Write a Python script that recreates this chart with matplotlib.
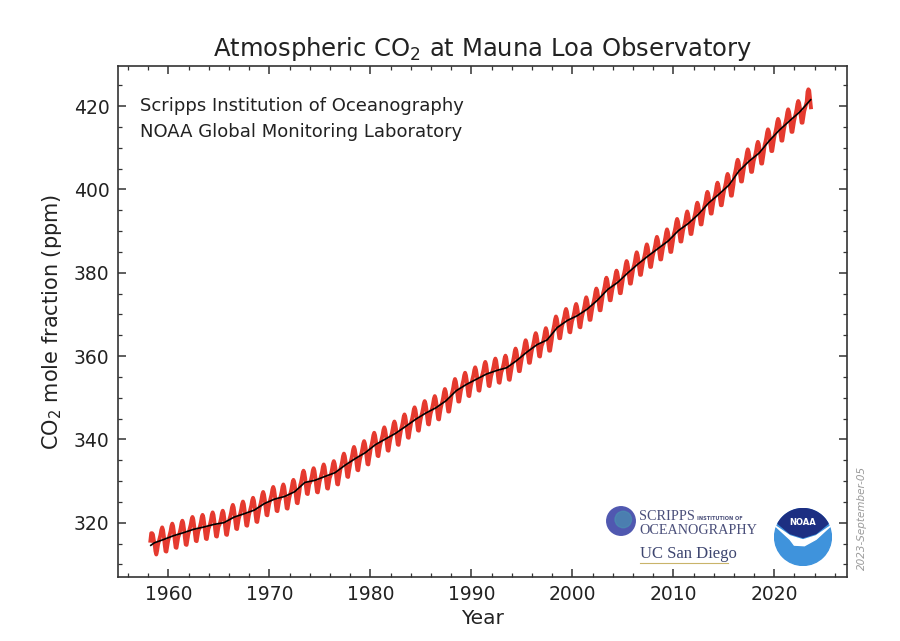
import matplotlib
matplotlib.use("Agg")
import matplotlib.pyplot as plt
import numpy as np
from matplotlib.patches import Circle, Polygon

# monthly CO2 at Mauna Loa (ppm), one row per year, 1958 starts in March, 2023 ends in August
first_year = 1958
first_month = 3
co2_monthly = [
    [315.7, 317.5, 317.5, 317.2, 315.9, 314.9, 313.2, 312.4, 313.3, 314.7],
    [315.5, 316.2, 317.1, 318.3, 318.9, 318.3, 316.8, 314.8, 313.2, 313.1, 314.4, 315.6],
    [316.4, 317.1, 318.0, 319.2, 319.8, 319.2, 317.7, 315.7, 314.1, 314.0, 315.3, 316.5],
    [317.1, 317.8, 318.7, 319.9, 320.5, 319.9, 318.4, 316.4, 314.8, 314.7, 316.0, 317.2],
    [318.0, 318.7, 319.6, 320.8, 321.4, 320.8, 319.3, 317.3, 315.7, 315.6, 316.9, 318.1],
    [318.5, 319.2, 320.1, 321.3, 321.9, 321.3, 319.8, 317.8, 316.2, 316.1, 317.4, 318.6],
    [319.1, 319.8, 320.7, 321.9, 322.5, 321.9, 320.4, 318.4, 316.8, 316.7, 318.0, 319.2],
    [319.5, 320.2, 321.1, 322.3, 322.9, 322.3, 320.8, 318.8, 317.2, 317.1, 318.4, 319.6],
    [320.9, 321.6, 322.5, 323.7, 324.3, 323.7, 322.2, 320.2, 318.6, 318.5, 319.8, 321.0],
    [321.7, 322.4, 323.3, 324.5, 325.1, 324.5, 323.0, 321.0, 319.4, 319.3, 320.6, 321.8],
    [322.6, 323.3, 324.2, 325.4, 326.0, 325.4, 323.9, 321.9, 320.3, 320.2, 321.5, 322.7],
    [323.9, 324.6, 325.6, 326.8, 327.4, 326.8, 325.5, 323.5, 321.9, 321.8, 323.2, 324.4],
    [325.2, 325.9, 326.8, 328.0, 328.6, 328.0, 326.5, 324.5, 322.9, 322.8, 324.1, 325.3],
    [325.8, 326.5, 327.4, 328.6, 329.2, 328.6, 327.1, 325.1, 323.5, 323.4, 324.7, 325.9],
    [326.8, 327.5, 328.5, 329.7, 330.3, 329.7, 328.4, 326.4, 324.8, 324.7, 326.1, 327.3],
    [329.0, 329.7, 330.7, 331.9, 332.5, 331.9, 330.6, 328.6, 327.0, 326.9, 328.3, 329.5],
    [329.7, 330.4, 331.3, 332.5, 333.1, 332.5, 331.0, 329.0, 327.4, 327.3, 328.6, 329.8],
    [330.6, 331.3, 332.2, 333.4, 334.0, 333.4, 331.9, 329.9, 328.3, 328.2, 329.5, 330.7],
    [331.3, 332.0, 333.0, 334.2, 334.8, 334.2, 332.9, 330.9, 329.3, 329.2, 330.6, 331.8],
    [333.1, 333.8, 334.8, 336.0, 336.6, 336.0, 334.7, 332.7, 331.1, 331.0, 332.4, 333.6],
    [334.7, 335.4, 336.4, 337.6, 338.2, 337.6, 336.3, 334.3, 332.7, 332.6, 334.0, 335.2],
    [336.1, 336.8, 337.8, 339.0, 339.6, 339.0, 337.7, 335.7, 334.1, 334.0, 335.4, 336.6],
    [338.1, 338.8, 339.8, 341.0, 341.6, 341.0, 339.7, 337.7, 336.1, 336.0, 337.4, 338.6],
    [339.4, 340.1, 341.1, 342.3, 342.9, 342.3, 341.0, 339.0, 337.4, 337.3, 338.7, 339.9],
    [340.8, 341.5, 342.5, 343.7, 344.3, 343.7, 342.4, 340.4, 338.8, 338.7, 340.1, 341.3],
    [342.5, 343.2, 344.2, 345.4, 346.0, 345.4, 344.1, 342.1, 340.5, 340.4, 341.8, 343.0],
    [344.2, 344.9, 345.9, 347.1, 347.7, 347.1, 345.8, 343.8, 342.2, 342.1, 343.5, 344.7],
    [345.7, 346.4, 347.4, 348.6, 349.2, 348.6, 347.3, 345.3, 343.7, 343.6, 345.0, 346.2],
    [346.9, 347.6, 348.6, 349.8, 350.4, 349.8, 348.5, 346.5, 344.9, 344.8, 346.2, 347.4],
    [348.4, 349.1, 350.1, 351.4, 352.1, 351.5, 350.2, 348.2, 346.7, 346.7, 348.0, 349.3],
    [350.8, 351.5, 352.5, 353.8, 354.5, 353.9, 352.6, 350.6, 349.1, 349.1, 350.4, 351.7],
    [352.5, 353.2, 354.2, 355.4, 356.0, 355.4, 354.1, 352.1, 350.5, 350.4, 351.8, 353.0],
    [353.8, 354.5, 355.5, 356.7, 357.3, 356.7, 355.4, 353.4, 351.8, 351.7, 353.1, 354.3],
    [355.2, 355.9, 356.8, 358.0, 358.6, 358.0, 356.5, 354.5, 352.9, 352.8, 354.1, 355.3],
    [356.0, 356.7, 357.6, 358.8, 359.4, 358.8, 357.3, 355.3, 353.7, 353.6, 354.9, 356.1],
    [356.7, 357.4, 358.3, 359.5, 360.1, 359.5, 358.0, 356.0, 354.4, 354.3, 355.6, 356.8],
    [358.1, 358.8, 359.8, 361.1, 361.8, 361.2, 359.9, 357.9, 356.4, 356.4, 357.7, 359.0],
    [360.1, 360.8, 361.8, 363.1, 363.8, 363.2, 361.9, 359.9, 358.4, 358.4, 359.7, 361.0],
    [362.0, 362.7, 363.7, 364.9, 365.5, 364.9, 363.6, 361.6, 360.0, 359.9, 361.3, 362.5],
    [363.0, 363.7, 364.7, 366.0, 366.7, 366.1, 364.8, 362.8, 361.3, 361.3, 362.6, 363.9],
    [365.7, 366.5, 367.5, 368.8, 369.5, 369.0, 367.7, 365.8, 364.3, 364.3, 365.7, 367.0],
    [367.8, 368.5, 369.5, 370.7, 371.3, 370.7, 369.4, 367.4, 365.8, 365.7, 367.1, 368.3],
    [369.0, 369.7, 370.7, 371.9, 372.5, 371.9, 370.6, 368.6, 367.0, 366.9, 368.3, 369.5],
    [370.4, 371.1, 372.1, 373.4, 374.1, 373.5, 372.2, 370.2, 368.7, 368.7, 370.0, 371.3],
    [372.4, 373.2, 374.2, 375.5, 376.2, 375.7, 374.4, 372.5, 371.0, 371.0, 372.4, 373.7],
    [375.1, 375.8, 376.8, 378.1, 378.8, 378.2, 376.9, 374.9, 373.4, 373.4, 374.7, 376.0],
    [376.8, 377.5, 378.5, 379.8, 380.5, 379.9, 378.6, 376.6, 375.1, 375.1, 376.4, 377.7],
    [379.1, 379.8, 380.8, 382.1, 382.8, 382.2, 380.9, 378.9, 377.4, 377.4, 378.7, 380.0],
    [381.2, 381.9, 382.9, 384.2, 384.9, 384.3, 383.0, 381.0, 379.5, 379.5, 380.8, 382.1],
    [383.1, 383.8, 384.8, 386.1, 386.8, 386.2, 384.9, 382.9, 381.4, 381.4, 382.7, 384.0],
    [384.9, 385.6, 386.6, 387.9, 388.6, 388.0, 386.7, 384.7, 383.2, 383.2, 384.5, 385.8],
    [386.7, 387.4, 388.4, 389.7, 390.4, 389.8, 388.5, 386.5, 385.0, 385.0, 386.3, 387.6],
    [389.2, 389.9, 390.9, 392.2, 392.9, 392.3, 391.0, 389.0, 387.5, 387.5, 388.8, 390.1],
    [391.0, 391.7, 392.7, 394.0, 394.7, 394.1, 392.8, 390.8, 389.3, 389.3, 390.6, 391.9],
    [393.0, 393.8, 394.8, 396.1, 396.8, 396.3, 395.0, 393.1, 391.6, 391.6, 393.0, 394.3],
    [395.6, 396.4, 397.4, 398.7, 399.4, 398.9, 397.6, 395.7, 394.2, 394.2, 395.6, 396.9],
    [397.9, 398.6, 399.6, 400.9, 401.6, 401.0, 399.7, 397.7, 396.2, 396.2, 397.5, 398.8],
    [399.9, 400.7, 401.7, 403.0, 403.7, 403.2, 401.9, 400.0, 398.5, 398.5, 399.9, 401.2],
    [403.3, 404.1, 405.1, 406.4, 407.1, 406.6, 405.3, 403.4, 401.9, 401.9, 403.3, 404.6],
    [405.9, 406.6, 407.6, 408.9, 409.6, 409.0, 407.7, 405.7, 404.2, 404.2, 405.5, 406.8],
    [407.6, 408.4, 409.4, 410.7, 411.4, 410.9, 409.6, 407.7, 406.2, 406.2, 407.6, 408.9],
    [410.6, 411.4, 412.4, 413.7, 414.4, 413.9, 412.6, 410.7, 409.2, 409.2, 410.6, 411.9],
    [413.1, 413.9, 414.9, 416.2, 416.9, 416.4, 415.1, 413.2, 411.7, 411.7, 413.1, 414.4],
    [415.5, 416.2, 417.2, 418.5, 419.2, 418.6, 417.3, 415.3, 413.8, 413.8, 415.1, 416.4],
    [417.4, 418.2, 419.2, 420.5, 421.2, 420.7, 419.4, 417.5, 416.0, 416.0, 417.4, 418.7],
    [419.5, 420.4, 421.0, 423.4, 424.0, 423.7, 421.8, 419.7],
]

# seasonally adjusted trend (black line), yearly
trend_years = [1958.25, 1958.6] + [y + 0.5 for y in range(1959, 2023)] + [2023.6]
trend_values = [314.6, 315.2,
                315.98, 316.91, 317.64, 318.45, 318.99, 319.62, 320.04, 321.37, 322.18, 323.05,
                324.62, 325.68, 326.32, 327.46, 329.68, 330.19, 331.13, 332.03, 333.84, 335.41,
                336.84, 338.76, 340.12, 341.48, 343.15, 344.87, 346.35, 347.61, 349.31, 351.69,
                353.20, 354.45, 355.70, 356.54, 357.21, 358.96, 360.97, 362.74, 363.88, 366.84,
                368.54, 369.71, 371.32, 373.45, 375.98, 377.70, 379.98, 382.09, 384.02, 385.83,
                387.64, 390.10, 391.85, 394.06, 396.74, 398.81, 401.01, 404.41, 406.76, 408.72,
                411.65, 414.21, 416.41, 418.53,
                421.5]

title = "Atmospheric CO$_2$ at Mauna Loa Observatory"
credits = ["Scripps Institution of Oceanography", "NOAA Global Monitoring Laboratory"]
date_stamp = "2023-September-05"

# decimal year for each monthly value
t = []
v = []
for i, row in enumerate(co2_monthly):
    start = first_month if i == 0 else 1
    for j, val in enumerate(row):
        t.append(first_year + i + (start + j - 0.5) / 12.0)
        v.append(val)

fig = plt.figure(figsize=(9, 6.41), dpi=100)
W, H = 900, 641
ax = fig.add_axes([118 / W, 1 - 577 / H, (847 - 118) / W, (577 - 66) / H])

ax.plot(t, v, color="#e53a2f", lw=2.8, solid_joinstyle="round")
ax.plot(trend_years, trend_values, color="black", lw=1.2)

ax.set_xlim(1955.0, 2027.2)
ax.set_ylim(307.0, 429.6)
ax.set_xticks(np.arange(1960, 2021, 10))
ax.set_xticks(np.arange(1956, 2027, 2), minor=True)
ax.set_yticks(np.arange(320, 421, 20))
ax.set_yticks(np.arange(310, 430, 5), minor=True)
ax.tick_params(which="both", direction="in", top=True, right=True, colors="#333333", labelcolor="#222222")
ax.tick_params(which="major", length=6, width=1.1, labelsize=13.5, pad=6)
ax.tick_params(which="minor", length=3, width=0.9)
for s in ax.spines.values():
    s.set_color("#333333")
    s.set_linewidth(1.2)

ax.set_title(title, fontsize=17.5, color="#222222", pad=7)
ax.set_xlabel("Year", fontsize=14.5, color="#222222", labelpad=3)
ax.set_ylabel("CO$_2$ mole fraction (ppm)", fontsize=15, color="#222222", labelpad=7)

for k, line in enumerate(credits):
    fig.text(140 / W, 1 - (106 + 26 * k) / H, line, fontsize=13, color="#222222", va="center")

fig.text(862 / W, 1 - 518 / H, date_stamp, rotation=90, fontsize=7.5, color="#9a9a9a",
         style="italic", ha="center", va="center")

# Scripps / UC San Diego logo
lg = fig.add_axes([606 / W, 1 - 536 / H, 30 / W, 30 / H])
lg.set_xlim(-1, 1)
lg.set_ylim(-1, 1)
lg.set_aspect("equal")
lg.axis("off")
lg.add_patch(Circle((0, 0), 0.95, color="#5058b0"))
lg.add_patch(Circle((0.15, 0.1), 0.55, color="#4a8fb0", alpha=0.7))
fig.text(639 / W, 1 - 517 / H, "SCRIPPS", family="Liberation Serif", fontsize=10.3, color="#4a4f7a", va="center")
fig.text(697 / W, 1 - 518 / H, "INSTITUTION OF", family="DejaVu Sans", fontsize=3.6, color="#4a4f7a",
         va="center", weight="bold")
fig.text(639 / W, 1 - 530 / H, "OCEANOGRAPHY", family="Liberation Serif", fontsize=10.2, color="#4a4f7a", va="center")
fig.text(640 / W, 1 - 554 / H, "UC San Diego", family="Liberation Serif", fontsize=12, color="#3e4670", va="center")
fig.add_artist(plt.Line2D([640 / W, 728 / W], [1 - 563 / H, 1 - 563 / H], color="#c9b46a", lw=0.8))

# NOAA logo
nl = fig.add_axes([774 / W, 1 - 566 / H, 58 / W, 58 / H])
nl.set_xlim(-1, 1)
nl.set_ylim(-1, 1)
nl.set_aspect("equal")
nl.axis("off")
nl.add_patch(Circle((0, 0), 0.98, color="#3f93dc"))
ang = np.linspace(np.radians(28), np.radians(152), 40)
top = np.column_stack([0.98 * np.cos(ang), 0.98 * np.sin(ang)])
nl.add_patch(Polygon(np.vstack([top, [[-0.86, 0.46], [-0.45, 0.12], [0.0, -0.02], [0.45, 0.12], [0.86, 0.46]]]),
                     closed=True, color="#1d2f82"))
nl.add_patch(Polygon([[-0.95, 0.38], [-0.45, 0.04], [0.0, -0.1], [0.45, 0.04], [0.95, 0.38],
                      [0.45, -0.08], [0.05, -0.3], [-0.3, -0.28], [-0.45, -0.08]],
                     closed=True, color="white"))
nl.text(0, 0.5, "NOAA", color="white", fontsize=6, weight="bold", ha="center", va="center")

fig.savefig("out.png", dpi=100, facecolor="white")
